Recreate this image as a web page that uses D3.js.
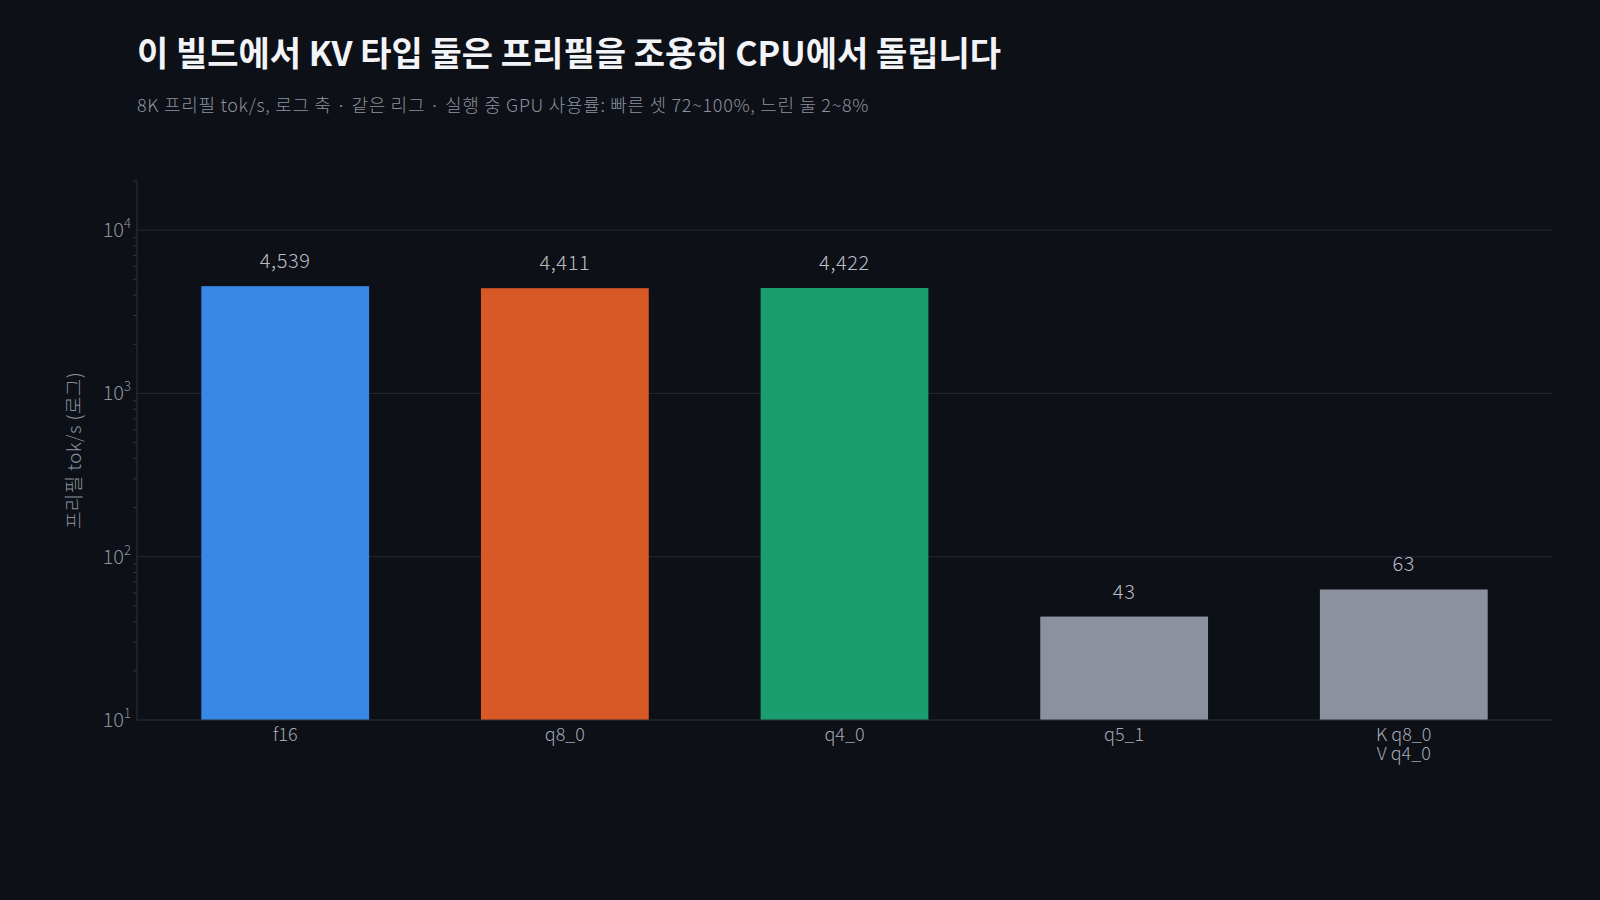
<!DOCTYPE html>
<html>
<head>
<meta charset="utf-8">
<script src="https://cdn.jsdelivr.net/npm/d3@7"></script>
<style>
  html, body { margin: 0; padding: 0; background: #0d1017; }
  svg { display: block; font-family: "Noto Sans CJK KR", "Noto Sans", sans-serif; }
  .light { font-weight: 300; }
</style>
</head>
<body>
<div id="chart"></div>
<script>
const categories = ["f16", "q8_0", "q4_0", "q5_1", "K q8_0\nV q4_0"];
const prefillValues = [4539, 4411, 4422, 43, 63];
const barColors = ["#3987e5", "#d95926", "#1a9e6f", "#8c929d", "#8c929d"];
const majorTicks = [10, 100, 1000, 10000];
const yDomain = [10, 20000];

const TITLE = "이 빌드에서 KV 타입 둘은 프리필을 조용히 CPU에서 돌립니다";
const SUBTITLE = "8K 프리필 tok/s, 로그 축 · 같은 리그 · 실행 중 GPU 사용률: 빠른 셋 72~100%, 느린 둘 2~8%";
const Y_LABEL = "프리필 tok/s (로그)";

const W = 1600, H = 900;
const M = { top: 181, right: 48, bottom: 180, left: 137 };

const svg = d3.select("#chart").append("svg")
  .attr("width", W).attr("height", H);

svg.append("rect").attr("width", W).attr("height", H).attr("fill", "#0d1017");

svg.append("text")
  .attr("x", 137).attr("y", 66)
  .attr("fill", "#f2f4f7")
  .style("font-size", "34px").style("font-weight", 700)
  .text(TITLE);

svg.append("text")
  .attr("class", "light")
  .attr("x", 137).attr("y", 112)
  .attr("fill", "#8b929c")
  .style("font-size", "18px").style("letter-spacing", "0.7px")
  .text(SUBTITLE);

const plotW = W - M.left - M.right;
const plotH = H - M.top - M.bottom;
const g = svg.append("g").attr("transform", `translate(${M.left},${M.top})`);

const x = d3.scaleBand().domain(categories).range([0, plotW])
  .paddingInner(0.4).paddingOuter(0.23);
const y = d3.scaleLog().domain(yDomain).range([plotH, 0]);

// gridlines
g.selectAll("line.grid").data(majorTicks.slice(1)).enter().append("line")
  .attr("class", "grid")
  .attr("x1", 0).attr("x2", plotW)
  .attr("y1", d => y(d)).attr("y2", d => y(d))
  .attr("stroke", "#252932").attr("stroke-width", 1);

// minor ticks
const minor = [];
for (let dec = 10; dec < 20000; dec *= 10) {
  for (let k = 2; k <= 9; k++) if (dec * k <= yDomain[1]) minor.push(dec * k);
}
g.selectAll("line.minor").data(minor).enter().append("line")
  .attr("x1", -4).attr("x2", 0)
  .attr("y1", d => y(d)).attr("y2", d => y(d))
  .attr("stroke", "#2e333c").attr("stroke-width", 1);

// bars
g.selectAll("rect.bar").data(prefillValues).enter().append("rect")
  .attr("class", "bar")
  .attr("x", (d, i) => x(categories[i]))
  .attr("width", x.bandwidth())
  .attr("y", d => y(d))
  .attr("height", d => plotH - y(d))
  .attr("fill", (d, i) => barColors[i]);

// value labels
g.selectAll("text.val").data(prefillValues).enter().append("text")
  .attr("class", "light")
  .attr("x", (d, i) => x(categories[i]) + x.bandwidth() / 2)
  .attr("y", d => y(d) - 18)
  .attr("text-anchor", "middle")
  .attr("fill", "#b9bec6")
  .style("font-size", "20px").style("letter-spacing", "0.6px")
  .text(d => d3.format(",")(d));

// spines
g.append("line").attr("x1", 0).attr("x2", 0).attr("y1", 0).attr("y2", plotH)
  .attr("stroke", "#2c3038");
g.append("line").attr("x1", 0).attr("x2", plotW).attr("y1", plotH).attr("y2", plotH)
  .attr("stroke", "#2c3038");

// y tick labels 10^n
const yt = g.selectAll("text.ytick").data(majorTicks).enter().append("text")
  .attr("class", "light")
  .attr("x", -6).attr("y", d => y(d) + 7)
  .attr("text-anchor", "end")
  .attr("fill", "#8b929c")
  .style("font-size", "20px");
yt.append("tspan").text("10");
yt.append("tspan").attr("dy", -9).style("font-size", "13px")
  .text(d => Math.round(Math.log10(d)));

// x tick labels, one text per line
categories.forEach(c => {
  c.split("\n").forEach((line, i) => {
    g.append("text")
      .attr("class", "light")
      .attr("x", x(c) + x.bandwidth() / 2)
      .attr("y", plotH + 21 + i * 18.5)
      .attr("text-anchor", "middle")
      .attr("fill", "#a3a9b2")
      .style("font-size", "18px")
      .text(line);
  });
});

// y axis label
svg.append("text")
  .attr("class", "light")
  .attr("transform", `translate(81,${M.top + plotH / 2}) rotate(-90)`)
  .attr("text-anchor", "middle")
  .attr("fill", "#8b929c")
  .style("font-size", "19px").style("letter-spacing", "0.4px")
  .text(Y_LABEL);
</script>
</body>
</html>
